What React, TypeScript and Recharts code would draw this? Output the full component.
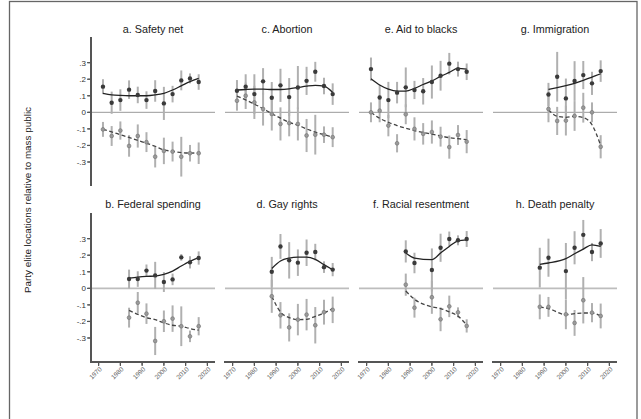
import React from "react";
import { ComposedChart, Scatter, Line, XAxis, YAxis, ReferenceLine, ErrorBar } from "recharts";

// ---------- data ----------
const YEARS_ALL = [1972, 1976, 1980, 1984, 1988, 1992, 1996, 2000, 2004, 2008, 2012, 2016];
const YEARS_84 = [1984, 1988, 1992, 1996, 2000, 2004, 2008, 2012, 2016];
const YEARS_88 = [1988, 1992, 1996, 2000, 2004, 2008, 2012, 2016];
const YEARS_92 = [1992, 1996, 2000, 2004, 2008, 2012, 2016];
const YEARS_88_NO96 = [1988, 1992, 2000, 2004, 2008, 2012, 2016];

const X_TICKS = [1970, 1980, 1990, 2000, 2010, 2020];
const Y_TICKS = [-0.3, -0.2, -0.1, 0, 0.1, 0.2, 0.3];

// a. Safety net
const safetyDem = [0.155, 0.058, 0.074, 0.137, 0.105, 0.074, 0.129, 0.054, 0.11, 0.193, 0.205, 0.183];
const safetyDemErr = [0.045, 0.067, 0.065, 0.056, 0.05, 0.053, 0.065, 0.1, 0.05, 0.06, 0.03, 0.047];
const safetyRep = [-0.103, -0.143, -0.11, -0.203, -0.143, -0.18, -0.268, -0.233, -0.237, -0.268, -0.247, -0.247];
const safetyRepErr = [0.045, 0.06, 0.055, 0.065, 0.07, 0.06, 0.065, 0.08, 0.06, 0.12, 0.05, 0.065];
const safetyDemFit = [0.115, 0.106, 0.102, 0.1, 0.1, 0.1, 0.105, 0.115, 0.135, 0.16, 0.185, 0.205];
const safetyRepFit = [-0.103, -0.118, -0.135, -0.152, -0.17, -0.187, -0.205, -0.227, -0.235, -0.243, -0.246, -0.245];

// b. Federal spending
const fedDem = [0.056, 0.056, 0.107, 0.078, 0.038, 0.054, 0.187, 0.157, 0.183];
const fedDemErr = [0.057, 0.047, 0.037, 0.082, 0.06, 0.035, 0.02, 0.037, 0.04];
const fedRep = [-0.177, -0.087, -0.153, -0.318, -0.199, -0.183, -0.229, -0.29, -0.229];
const fedRepErr = [0.06, 0.065, 0.062, 0.085, 0.065, 0.08, 0.12, 0.035, 0.055];
const fedDemFit = [0.062, 0.068, 0.072, 0.074, 0.084, 0.104, 0.135, 0.163, 0.185];
const fedRepFit = [-0.133, -0.157, -0.177, -0.189, -0.209, -0.223, -0.229, -0.243, -0.253];

// c. Abortion
const abortDem = [0.13, 0.155, 0.11, 0.187, 0.088, 0.163, 0.092, 0.15, 0.19, 0.245, 0.159, 0.11];
const abortDemErr = [0.065, 0.075, 0.12, 0.08, 0.095, 0.1, 0.115, 0.13, 0.085, 0.06, 0.05, 0.065];
const abortRep = [0.07, 0.1, 0.06, 0.02, -0.01, -0.07, -0.065, -0.07, -0.14, -0.135, -0.135, -0.15];
const abortRepErr = [0.06, 0.08, 0.1, 0.1, 0.1, 0.1, 0.08, 0.1, 0.1, 0.12, 0.05, 0.06];
const abortDemFit = [0.135, 0.138, 0.14, 0.14, 0.138, 0.138, 0.142, 0.15, 0.158, 0.163, 0.158, 0.12];
const abortRepFit = [0.098, 0.075, 0.05, 0.022, -0.008, -0.035, -0.06, -0.078, -0.1, -0.12, -0.135, -0.15];

// d. Gay rights
const gayDem = [0.1, 0.253, 0.169, 0.155, 0.215, 0.219, 0.128, 0.113];
const gayDemErr = [0.09, 0.075, 0.11, 0.08, 0.08, 0.05, 0.035, 0.04];
const gayRep = [-0.048, -0.163, -0.236, -0.189, -0.159, -0.223, -0.144, -0.13];
const gayRepErr = [0.1, 0.08, 0.085, 0.095, 0.095, 0.11, 0.075, 0.08];
const gayDemFit = [0.12, 0.165, 0.183, 0.189, 0.189, 0.175, 0.143, 0.112];
const gayRepFit = [-0.048, -0.143, -0.177, -0.189, -0.187, -0.169, -0.149, -0.122];

// e. Aid to blacks
const aidDem = [0.261, 0.09, 0.074, 0.119, 0.151, 0.135, 0.127, 0.183, 0.221, 0.294, 0.261, 0.245];
const aidDemErr = [0.07, 0.075, 0.11, 0.065, 0.12, 0.055, 0.08, 0.1, 0.09, 0.065, 0.045, 0.05];
const aidRep = [0, 0.01, -0.08, -0.187, -0.012, -0.1, -0.13, -0.119, -0.147, -0.21, -0.137, -0.177];
const aidRepErr = [0.06, 0.07, 0.065, 0.055, 0.06, 0.07, 0.065, 0.07, 0.06, 0.07, 0.06, 0.07];
const aidDemFit = [0.203, 0.165, 0.14, 0.128, 0.128, 0.145, 0.168, 0.19, 0.217, 0.241, 0.265, 0.261];
const aidRepFit = [0, -0.036, -0.06, -0.08, -0.096, -0.11, -0.122, -0.132, -0.143, -0.153, -0.159, -0.165];

// f. Racial resentment
const racialDem = [0.223, 0.153, 0.111, 0.245, 0.298, 0.29, 0.298];
const racialDemErr = [0.067, 0.062, 0.13, 0.085, 0.045, 0.03, 0.048];
const racialRep = [0.022, -0.117, -0.054, -0.187, -0.109, -0.145, -0.227];
const racialRepErr = [0.067, 0.06, 0.1, 0.072, 0.065, 0.03, 0.04];
const racialDemFit = [0.213, 0.183, 0.173, 0.213, 0.253, 0.287, 0.293];
const racialRepFit = [-0.016, -0.066, -0.112, -0.122, -0.142, -0.168, -0.222];

// g. Immigration
const immDem = [0.108, 0.215, 0.084, 0.189, 0.225, 0.175, 0.249];
const immDemErr = [0.07, 0.15, 0.12, 0.12, 0.085, 0.07, 0.065];
const immRep = [0.02, -0.052, -0.05, -0.022, 0.028, 0, -0.208];
const immRepErr = [0.08, 0.085, 0.09, 0.09, 0.09, 0.06, 0.07];
const immDemFit = [0.139, 0.149, 0.161, 0.175, 0.193, 0.213, 0.233];
const immRepFit = [0.016, -0.024, -0.03, -0.024, -0.032, -0.075, -0.2];

// h. Death penalty
const deathDem = [0.125, 0.185, 0.104, 0.245, 0.323, 0.219, 0.271];
const deathDemErr = [0.12, 0.115, 0.17, 0.1, 0.09, 0.055, 0.087];
const deathRep = [-0.112, -0.112, -0.157, -0.209, -0.072, -0.147, -0.167];
const deathRepErr = [0.075, 0.06, 0.09, 0.078, 0.14, 0.058, 0.075];
const deathDemFit = [0.145, 0.153, 0.179, 0.209, 0.237, 0.263, 0.253];
const deathRepFit = [-0.112, -0.122, -0.159, -0.153, -0.149, -0.149, -0.167];

// ---------- build ----------
type Row = { year: number; dem: number; demErr: number; rep: number; repErr: number; demFit: number; repFit: number };

function rows(years: number[], dem: number[], demErr: number[], rep: number[], repErr: number[], demFit: number[], repFit: number[]): Row[] {
  return years.map((year, i) => ({ year, dem: dem[i], demErr: demErr[i], rep: rep[i], repErr: repErr[i], demFit: demFit[i], repFit: repFit[i] }));
}

const PANELS = [
  { title: "a. Safety net", col: 0, row: 0, data: rows(YEARS_ALL, safetyDem, safetyDemErr, safetyRep, safetyRepErr, safetyDemFit, safetyRepFit) },
  { title: "c. Abortion", col: 1, row: 0, data: rows(YEARS_ALL, abortDem, abortDemErr, abortRep, abortRepErr, abortDemFit, abortRepFit) },
  { title: "e. Aid to blacks", col: 2, row: 0, data: rows(YEARS_ALL, aidDem, aidDemErr, aidRep, aidRepErr, aidDemFit, aidRepFit) },
  { title: "g. Immigration", col: 3, row: 0, data: rows(YEARS_92, immDem, immDemErr, immRep, immRepErr, immDemFit, immRepFit) },
  { title: "b. Federal spending", col: 0, row: 1, data: rows(YEARS_84, fedDem, fedDemErr, fedRep, fedRepErr, fedDemFit, fedRepFit) },
  { title: "d. Gay rights", col: 1, row: 1, data: rows(YEARS_88, gayDem, gayDemErr, gayRep, gayRepErr, gayDemFit, gayRepFit) },
  { title: "f. Racial resentment", col: 2, row: 1, data: rows(YEARS_88_NO96, racialDem, racialDemErr, racialRep, racialRepErr, racialDemFit, racialRepFit) },
  { title: "h. Death penalty", col: 3, row: 1, data: rows(YEARS_88_NO96, deathDem, deathDemErr, deathRep, deathRepErr, deathDemFit, deathRepFit) },
];

// ---------- layout ----------
const FONT = "'Liberation Sans', Arial, sans-serif";
const X_DOMAIN: [number, number] = [1966.5, 2023.5];
const Y_DOMAIN: [number, number] = [-0.445, 0.455];
const PLOT_W = 124;
const PLOT_H = 149;
const YAX_W = 30;
const XAX_H = 40;
const COL_LEFT = [91, 225, 359, 493];
const ROW_TOP = [37, 213];
const TITLE_Y = [29, 204];
const AXIS_COLOR = "#555";
const TICK_PX = 3;

// same linear mapping the panels use, for the axis frame overlay
const xPix = (col: number, v: number) => COL_LEFT[col] + ((v - X_DOMAIN[0]) / (X_DOMAIN[1] - X_DOMAIN[0])) * PLOT_W;
const yPix = (row: number, v: number) => ROW_TOP[row] + ((Y_DOMAIN[1] - v) / (Y_DOMAIN[1] - Y_DOMAIN[0])) * PLOT_H;

const fmtY = (v: number) => {
  if (Math.abs(v) < 1e-9) return "0";
  const s = Math.abs(v).toFixed(1).replace(/^0/, "");
  return (v < 0 ? "-" : "") + s;
};

const XTick = (props: any) => {
  const { x, y, payload } = props;
  const tx = x + 2;
  const ty = y + 1;
  return (
    <text x={tx} y={ty} transform={`rotate(-45 ${tx} ${ty})`} textAnchor="end" fontSize={6.5} fill="#666" fontFamily={FONT} dy="0.35em">
      {payload.value}
    </text>
  );
};

const demDot = (props: any) => <circle cx={props.cx} cy={props.cy} r={2.2} fill="#3a3a3a" />;
const repDot = (props: any) => <circle cx={props.cx} cy={props.cy} r={1.9} fill="#9a9a9a" stroke="#707070" strokeWidth={0.6} />;

function Panel({ p }: { p: (typeof PANELS)[number] }) {
  const showY = p.col === 0;
  const showX = p.row === 1;
  const left = COL_LEFT[p.col] - (showY ? YAX_W : 0);
  const top = ROW_TOP[p.row];
  const width = PLOT_W + (showY ? YAX_W : 0);
  const height = PLOT_H + (showX ? XAX_H : 0);
  return (
    <div style={{ position: "absolute", left, top, width, height }}>
      <ComposedChart width={width} height={height} data={p.data} margin={{ top: 0, right: 0, bottom: 0, left: 0 }}>
        <XAxis
          type="number"
          dataKey="year"
          domain={X_DOMAIN}
          allowDataOverflow
          ticks={X_TICKS}
          interval={0}
          hide={!showX}
          height={XAX_H}
          tickSize={TICK_PX}
          tick={<XTick />}
          stroke={AXIS_COLOR}
        />
        <YAxis
          type="number"
          domain={Y_DOMAIN}
          allowDataOverflow
          ticks={Y_TICKS}
          interval={0}
          hide={!showY}
          width={YAX_W}
          tickSize={TICK_PX}
          tickFormatter={fmtY}
          tick={{ fontSize: 8, fill: "#333", fontFamily: FONT }}
          stroke={AXIS_COLOR}
        />
        <ReferenceLine y={0} stroke={p.row === 0 ? "#9a9a9a" : "#bdbdbd"} strokeWidth={p.row === 0 ? 1 : 1.6} />
        <Scatter dataKey="rep" shape={repDot} isAnimationActive={false}>
          <ErrorBar dataKey="repErr" direction="y" width={0} stroke="#b0b0b0" strokeWidth={2} />
        </Scatter>
        <Scatter dataKey="dem" shape={demDot} isAnimationActive={false}>
          <ErrorBar dataKey="demErr" direction="y" width={0} stroke="#b0b0b0" strokeWidth={2} />
        </Scatter>
        <Line dataKey="repFit" type="monotone" stroke="#444" strokeWidth={1.3} strokeDasharray="4 2.5" dot={false} activeDot={false} isAnimationActive={false} />
        <Line dataKey="demFit" type="monotone" stroke="#222" strokeWidth={1.3} dot={false} activeDot={false} isAnimationActive={false} />
      </ComposedChart>
    </div>
  );
}

// axis frame drawn as filled rectangles (robust against thin-stroke rendering quirks)
function AxisFrame() {
  const els: React.ReactNode[] = [];
  [0, 1].forEach((row) => {
    const x0 = COL_LEFT[0];
    els.push(<rect key={"ya" + row} x={x0 - 1} y={ROW_TOP[row]} width={2} height={PLOT_H} fill={AXIS_COLOR} />);
    Y_TICKS.forEach((t, i) => {
      const y = yPix(row, t);
      els.push(<rect key={"yt" + row + "_" + i} x={x0 - TICK_PX - 1} y={y - 0.6} width={TICK_PX} height={1.2} fill={AXIS_COLOR} />);
    });
  });
  [0, 1, 2, 3].forEach((col) => {
    const y0 = ROW_TOP[1] + PLOT_H;
    els.push(<rect key={"xa" + col} x={COL_LEFT[col] - 1} y={y0 - 1} width={PLOT_W + 1} height={2} fill={AXIS_COLOR} />);
    X_TICKS.forEach((t, i) => {
      const x = xPix(col, t);
      els.push(<rect key={"xt" + col + "_" + i} x={x - 0.6} y={y0 + 1} width={1.2} height={TICK_PX} fill={AXIS_COLOR} />);
    });
  });
  return (
    <svg width={641} height={419} style={{ position: "absolute", left: 0, top: 0, pointerEvents: "none" }}>
      {els}
    </svg>
  );
}

export default function App() {
  return (
    <div style={{ position: "relative", width: 641, height: 419, background: "#fff", overflow: "hidden", fontFamily: FONT }}>
      <style>{`body{margin:0} .recharts-surface{overflow:visible}`}</style>
      <svg width={641} height={419} style={{ position: "absolute", left: 0, top: 0 }}>
        <rect x={9.5} y={1.5} width={627.5} height={500} fill="none" stroke="#666" strokeWidth={1.3} />
        <text x={31} y={200} transform="rotate(-90 31 200)" textAnchor="middle" fontSize={9.9} fill="#222" fontFamily={FONT}>
          Party elite locations relative to mass public
        </text>
      </svg>
      {PANELS.map((p) => (
        <div
          key={p.title + "-t"}
          style={{
            position: "absolute",
            left: COL_LEFT[p.col] + PLOT_W / 2 - 70,
            top: TITLE_Y[p.row] - 6,
            width: 140,
            height: 12,
            lineHeight: "12px",
            textAlign: "center",
            fontSize: 10.8,
            color: "#222",
          }}
        >
          {p.title}
        </div>
      ))}
      {PANELS.map((p) => (
        <Panel key={p.title} p={p} />
      ))}
      <AxisFrame />
    </div>
  );
}
